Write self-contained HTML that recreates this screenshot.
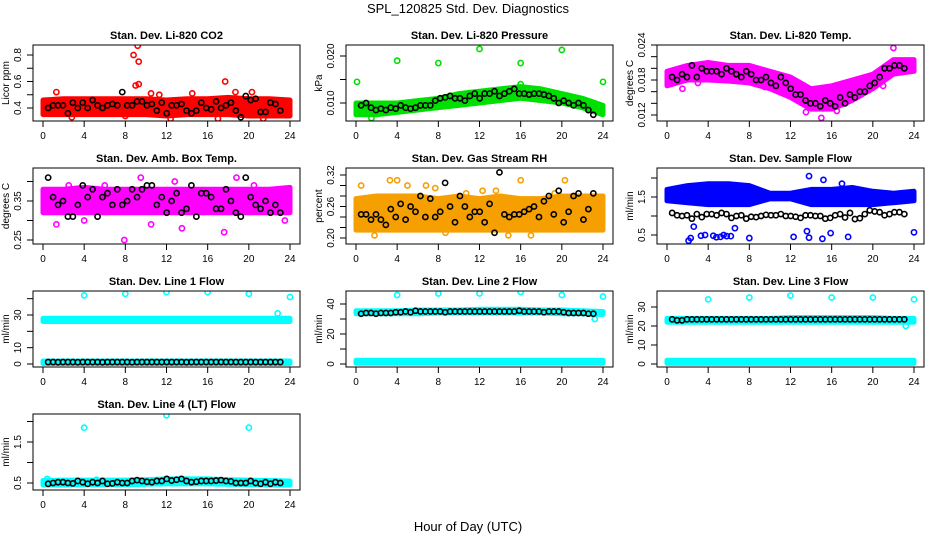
<!DOCTYPE html>
<html><head><meta charset="utf-8"><style>
body{margin:0;background:#fff}
svg{display:block;font-family:"Liberation Sans",sans-serif}
</style></head><body>
<svg id="chart" width="936" height="540" viewBox="0 0 936 540">
<rect width="936" height="540" fill="#fff"/>
<text x="468" y="13" text-anchor="middle" font-size="13">SPL_120825  Std. Dev. Diagnostics</text>
<text x="468" y="531" text-anchor="middle" font-size="13">Hour of Day (UTC)</text>
</svg>
<script>
const bandHours=[0,2,4,6,8,10,12,14,16,18,20,22,24];
const blackHours=[];for(let i=0;i<48;i++)blackHours.push(0.5+i*0.48);
const xTicks=[0,4,8,12,16,20,24];

const co2Lo=[0.35,0.35,0.35,0.35,0.35,0.35,0.34,0.35,0.35,0.35,0.34,0.34,0.34];
const co2Hi=[0.46,0.47,0.47,0.47,0.47,0.47,0.46,0.47,0.47,0.48,0.47,0.47,0.46];
const co2OutX=[8.8,9.2,9.3,9.0,9.3,17.7,18.7,20.3,1.3,10.5,14.5,17,12.4,21.4,2.8,8.0,11.3];
const co2OutY=[0.80,0.87,0.75,0.57,0.58,0.60,0.52,0.52,0.52,0.51,0.51,0.32,0.32,0.32,0.33,0.34,0.50];
const co2Black=[0.40,0.42,0.42,0.42,0.36,0.44,0.40,0.44,0.40,0.46,0.42,0.40,0.42,0.43,0.42,0.52,0.42,0.42,0.45,0.45,0.42,0.43,0.38,0.44,0.36,0.42,0.42,0.43,0.38,0.36,0.38,0.44,0.40,0.39,0.45,0.40,0.42,0.44,0.38,0.33,0.49,0.46,0.47,0.37,0.37,0.44,0.43,0.38];

const presLo=[0.0075,0.0075,0.0080,0.0085,0.0090,0.0095,0.0100,0.0105,0.0110,0.0105,0.0100,0.0090,0.0075];
const presHi=[0.0100,0.0100,0.0100,0.0105,0.0110,0.0120,0.0125,0.0130,0.0135,0.0130,0.0120,0.0110,0.0095];
const presOutX=[0.1,4,8,12,16,20,24,1.5,16];
const presOutY=[0.0145,0.0190,0.0185,0.0215,0.0185,0.0213,0.0145,0.0068,0.0140];
const presBlack=[0.0095,0.0100,0.0090,0.0085,0.0088,0.0085,0.0090,0.0088,0.0095,0.0090,0.0088,0.0090,0.0095,0.0095,0.0095,0.0105,0.0110,0.0112,0.0115,0.0110,0.0110,0.0105,0.0115,0.0120,0.0110,0.0120,0.0120,0.0125,0.0115,0.0120,0.0125,0.0130,0.0120,0.0120,0.0118,0.0120,0.0120,0.0118,0.0115,0.0110,0.0100,0.0105,0.0100,0.0095,0.0100,0.0095,0.0085,0.0075];

const tempLo=[0.0170,0.0180,0.0180,0.0178,0.0175,0.0165,0.0150,0.0130,0.0130,0.0145,0.0165,0.0190,0.0195];
const tempHi=[0.0195,0.0205,0.0210,0.0205,0.0205,0.0195,0.0185,0.0165,0.0170,0.0180,0.0190,0.0215,0.0215];
const tempOutX=[22,15,1.5,3,9.5,13.5,16.5,21];
const tempOutY=[0.0235,0.0115,0.0165,0.0175,0.0168,0.0125,0.0127,0.0170];
const tempBlack=[0.0185,0.0180,0.0190,0.0185,0.0205,0.0185,0.0200,0.0195,0.0195,0.0195,0.0190,0.0200,0.0195,0.0190,0.0185,0.0195,0.0190,0.0180,0.0180,0.0185,0.0175,0.0170,0.0185,0.0175,0.0165,0.0155,0.0155,0.0145,0.0140,0.0140,0.0135,0.0145,0.0140,0.0135,0.0150,0.0140,0.0155,0.0150,0.0160,0.0160,0.0170,0.0175,0.0185,0.0200,0.0200,0.0205,0.0205,0.0200];

const ambLo=[0.32,0.32,0.32,0.32,0.32,0.32,0.32,0.32,0.32,0.32,0.32,0.32,0.32];
const ambHi=[0.38,0.38,0.385,0.38,0.38,0.38,0.38,0.38,0.38,0.38,0.38,0.38,0.385];
const ambOutX=[7.9,13.5,17.6,4,9.5,12.8,18.8,1.3,6,23.5,10.5,2.5,20.5];
const ambOutY=[0.25,0.28,0.27,0.30,0.41,0.40,0.41,0.29,0.39,0.30,0.29,0.39,0.39];
const ambBlack=[0.41,0.36,0.34,0.35,0.31,0.31,0.34,0.39,0.36,0.38,0.31,0.36,0.37,0.34,0.38,0.34,0.35,0.38,0.36,0.38,0.39,0.39,0.34,0.36,0.32,0.35,0.37,0.32,0.33,0.39,0.31,0.37,0.37,0.36,0.33,0.33,0.38,0.35,0.32,0.31,0.41,0.36,0.34,0.33,0.35,0.32,0.34,0.32];

const rhLo=[0.215,0.215,0.215,0.215,0.215,0.215,0.215,0.215,0.215,0.215,0.215,0.215,0.215];
const rhHi=[0.275,0.28,0.28,0.28,0.275,0.28,0.275,0.28,0.275,0.275,0.28,0.28,0.28];
const rhOutX=[0.5,3.3,4,5,6.8,7.7,10.7,12.3,13.6,16,19.3,20.3,1.8,8.7,14.8,17];
const rhOutY=[0.30,0.31,0.31,0.30,0.30,0.295,0.285,0.29,0.29,0.31,0.285,0.31,0.205,0.21,0.205,0.205];
const rhBlack=[0.245,0.245,0.235,0.245,0.235,0.225,0.255,0.240,0.265,0.235,0.260,0.250,0.280,0.240,0.275,0.240,0.250,0.305,0.260,0.230,0.280,0.260,0.240,0.250,0.250,0.230,0.265,0.210,0.325,0.245,0.240,0.245,0.245,0.250,0.255,0.260,0.240,0.270,0.280,0.245,0.290,0.230,0.250,0.280,0.285,0.235,0.255,0.285];

const flowLo=[1.40,1.35,1.30,1.30,1.30,1.45,1.45,1.30,1.30,1.30,1.30,1.35,1.40];
const flowHi=[1.70,1.80,1.85,1.85,1.80,1.60,1.60,1.70,1.70,1.75,1.65,1.60,1.65];
const flowOutX=[2.1,2.3,2.6,3.3,3.7,4.5,4.8,5.2,5.5,5.8,6.2,6.6,8.0,12.3,13.6,13.8,15.1,15.9,17.6,24,2.6,5,13.8,15.2,17];
const flowOutY=[0.35,0.42,0.72,0.48,0.50,0.48,0.44,0.45,0.50,0.47,0.47,0.68,0.42,0.45,0.60,0.43,0.40,0.55,0.45,0.57,2.35,2.35,2.05,1.95,1.85];
const flowBlack=[1.08,1.02,1.00,1.02,0.93,1.05,0.97,1.05,1.05,1.02,1.08,1.05,0.95,1.00,1.02,0.93,0.98,0.97,1.00,1.03,1.02,1.02,1.05,1.00,1.00,0.98,0.95,1.02,1.02,1.00,1.00,0.93,0.95,1.02,1.05,0.96,1.08,0.92,0.94,1.05,1.15,1.12,1.10,1.02,1.05,1.10,1.10,1.05];

const l1UpLo=[26,26,26,26,26,26,26,26,26,26,26,26,26];
const l1UpHi=[28,28,28,28,28,28,28,28,28,28,28,28,28];
const l1DnLo=[0.3,0.3,0.3,0.3,0.3,0.3,0.3,0.3,0.3,0.3,0.3,0.3,0.3];
const l1DnHi=[1.8,1.8,1.8,1.8,1.8,1.8,1.8,1.8,1.8,1.8,1.8,1.8,1.8];
const l1OutX=[4,8,12,16,20,24,22.8];
const l1OutY=[42,43,44,44,43,41,31];
const l1Black=[1.2,1.2,1.1,1.2,1.2,1.2,1.1,1.2,1.2,1.2,1.2,1.1,1.2,1.2,1.2,1.2,1.2,1.1,1.2,1.2,1.2,1.2,1.2,1.2,1.2,1.2,1.2,1.2,1.1,1.2,1.2,1.2,1.2,1.2,1.2,1.2,1.2,1.2,1.2,1.2,1.2,1.2,1.2,1.2,1.2,1.2,1.2,1.2];

const l2UpLo=[33.5,33.5,33.5,33.5,34,34,34,34,34,34,33.5,33.5,33];
const l2UpHi=[35.5,35.5,35.5,36,36,36,36.5,36.5,36.5,36,36,35.5,35];
const l2DnLo=[0.5,0.5,0.5,0.5,0.5,0.5,0.5,0.5,0.5,0.5,0.5,0.5,0.5];
const l2DnHi=[2.5,2.5,2.5,2.5,2.5,2.5,2.5,2.5,2.5,2.5,2.5,2.5,2.5];
const l2OutX=[4,8,12,16,20,24,23.2];
const l2OutY=[46,47,47,48,46,45,30];
const l2Black=[33.5,34,34,33.5,34,34,34,34.5,34.5,35,34.5,35.5,35,35,35,35,35,34.5,35,35,35,35,35,35,35,35,35,35,35,35,35,35,35.5,35,35,35,35,34.5,35,35,35,34.5,34,34,34,34,33.5,33.5];

const l3UpLo=[22,22,22,22,22,22,22,22,22,22,22,22,22];
const l3UpHi=[24,24,24,24,24,24,24.5,24.5,24.5,24.5,24.5,24,24];
const l3DnLo=[0.3,0.3,0.3,0.3,0.3,0.3,0.3,0.3,0.3,0.3,0.3,0.3,0.3];
const l3DnHi=[2,2,2,2,2,2,2,2,2,2,2,2,2];
const l3OutX=[4,8,12,16,20,24,23.2];
const l3OutY=[34,35,36,35,35,34,20];
const l3Black=[23.5,23,23,23.5,23.5,23.5,23.5,23.5,23.5,23.5,23.5,23.5,23.5,23.5,23.5,23.5,23.5,23.5,23.5,23.5,23.5,23.5,23.5,23.5,23.5,23.5,23.5,23.5,23.5,23.5,23.5,23.5,23.5,23.5,23.5,23.5,23.5,23.5,23.5,23.5,23.5,23.5,23.5,23.5,23.5,23.5,23.5,23.5];

const l4Lo=[0.45,0.45,0.46,0.46,0.46,0.47,0.48,0.48,0.48,0.47,0.46,0.45,0.45];
const l4Hi=[0.56,0.57,0.57,0.57,0.57,0.58,0.60,0.60,0.60,0.58,0.57,0.56,0.55];
const l4OutX=[4,12,20,0.4,5.2];
const l4OutY=[1.85,2.15,1.85,0.60,0.58];
const l4Black=[0.48,0.50,0.52,0.52,0.50,0.49,0.55,0.52,0.48,0.52,0.50,0.55,0.48,0.49,0.52,0.50,0.50,0.55,0.57,0.55,0.53,0.52,0.55,0.55,0.60,0.56,0.58,0.60,0.55,0.52,0.53,0.55,0.55,0.55,0.56,0.57,0.55,0.54,0.50,0.50,0.50,0.55,0.50,0.48,0.52,0.48,0.52,0.50];

const NS="http://www.w3.org/2000/svg";
const svg=document.getElementById('chart');
function mk(tag,attrs,parent){const e=document.createElementNS(NS,tag);for(const k in attrs)e.setAttribute(k,attrs[k]);(parent||svg).appendChild(e);return e;}

function panel(p){
  const g=mk('g',{});
  
  
  const L=p.x,T=p.y,W=267,H=76,B=T+H;
  const sx=t=>L+10+t*(247/24);
  const sy=v=>p.p1+(v-p.v1)*(p.p2-p.p1)/(p.v2-p.v1);
  const clip='clip-'+p.name;
  const cp=mk('clipPath',{id:clip},g);mk('rect',{x:L,y:T,width:W,height:H},cp);
  const plot=mk('g',{'clip-path':'url(#'+clip+')'},g);
  p.bands.forEach(b=>{
    let pts=bandHours.map((h,i)=>sx(h)+','+sy(b[1][i]));
    pts=pts.concat(bandHours.map((h,i)=>sx(h)+','+sy(b[0][i])).reverse());
    const poly=mk('polygon',{points:pts.join(' '),fill:p.color,stroke:p.color,'stroke-width':5,'stroke-linejoin':'round'},plot);
    
    
  });
  p.outX.forEach((x,i)=>{
    const c=mk('circle',{cx:sx(x),cy:sy(p.outY[i]),r:2.6,fill:'none',stroke:p.color,'stroke-width':1.6},plot);
    
    
  });
  p.black.forEach((v,i)=>{
    const c=mk('circle',{cx:sx(blackHours[i]),cy:sy(v),r:2.6,fill:'none',stroke:'#000','stroke-width':1.6},plot);
    
    
  });
  const box=mk('rect',{x:L,y:T,width:W,height:H,fill:'none',stroke:'#000','stroke-width':1},g);
  
  
  const t=mk('text',{x:L+W/2,y:T-6,'text-anchor':'middle','font-size':11,'font-weight':'bold'},g);
  t.textContent=p.title;
  
  
  mk('line',{x1:sx(0),x2:sx(24),y1:B,y2:B,stroke:'#000'},g);
  xTicks.forEach(v=>{
    mk('line',{x1:sx(v),x2:sx(v),y1:B,y2:B+6,stroke:'#000'},g);
    const tx=mk('text',{x:sx(v),y:B+18,'text-anchor':'middle','font-size':10},g);
    tx.textContent=v;
    
    
  });
  mk('line',{x1:L,x2:L,y1:sy(p.ticks[0]),y2:sy(p.ticks[p.ticks.length-1]),stroke:'#000'},g);
  p.ticks.forEach(v=>{
    mk('line',{x1:L-6,x2:L,y1:sy(v),y2:sy(v),stroke:'#000'},g);
  });
  p.labels.forEach((lab,i)=>{
    const yy=sy(p.labelVals[i]);
    const tx=mk('text',{x:L-12,y:yy,'text-anchor':'middle','font-size':10,transform:'rotate(-90 '+(L-12)+' '+yy+')'},g);
    tx.textContent=lab;
    
    
  });
  const yl=mk('text',{x:L-24,y:T+H/2,'text-anchor':'middle','font-size':10,transform:'rotate(-90 '+(L-24)+' '+(T+H/2)+')'},g);
  yl.textContent=p.ylab;
  
  
}

const C1=33,C2=346,C3=657,R1=45,R2=168,R3=291,R4=414;
panel({name:'panel-co2',title:'Stan. Dev. Li-820 CO2',ylab:'Licor ppm',x:C1,y:R1,v1:0.4,p1:108,v2:0.8,p2:55,color:'#ff0000',
  bands:[[co2Lo,co2Hi]],outX:co2OutX,outY:co2OutY,black:co2Black,ticks:[0.4,0.5,0.6,0.7,0.8],labels:['0.4','0.6','0.8'],labelVals:[0.4,0.6,0.8]});
panel({name:'panel-pressure',title:'Stan. Dev. Li-820 Pressure',ylab:'kPa',x:C2,y:R1,v1:0.010,p1:103,v2:0.020,p2:56,color:'#00e000',
  bands:[[presLo,presHi]],outX:presOutX,outY:presOutY,black:presBlack,ticks:[0.010,0.015,0.020],labels:['0.010','0.020'],labelVals:[0.010,0.020]});
panel({name:'panel-temp',title:'Stan. Dev. Li-820 Temp.',ylab:'degrees C',x:C3,y:R1,v1:0.012,p1:115,v2:0.024,p2:45,color:'#ff00ff',
  bands:[[tempLo,tempHi]],outX:tempOutX,outY:tempOutY,black:tempBlack,ticks:[0.012,0.014,0.016,0.018,0.020,0.022,0.024],labels:['0.012','0.018','0.024'],labelVals:[0.012,0.018,0.024]});
panel({name:'panel-amb-temp',title:'Stan. Dev. Amb. Box Temp.',ylab:'degrees C',x:C1,y:R2,v1:0.25,p1:240,v2:0.35,p2:201,color:'#ff00ff',
  bands:[[ambLo,ambHi]],outX:ambOutX,outY:ambOutY,black:ambBlack,ticks:[0.25,0.30,0.35,0.40],labels:['0.25','0.35'],labelVals:[0.25,0.35]});
panel({name:'panel-rh',title:'Stan. Dev. Gas Stream RH',ylab:'percent',x:C2,y:R2,v1:0.20,p1:238,v2:0.32,p2:175,color:'#f5a000',
  bands:[[rhLo,rhHi]],outX:rhOutX,outY:rhOutY,black:rhBlack,ticks:[0.20,0.22,0.24,0.26,0.28,0.30,0.32],labels:['0.20','0.26','0.32'],labelVals:[0.20,0.26,0.32]});
panel({name:'panel-sample-flow',title:'Stan. Dev. Sample Flow',ylab:'ml/min',x:C3,y:R2,v1:0.5,p1:235,v2:1.5,p2:197,color:'#0000ff',
  bands:[[flowLo,flowHi]],outX:flowOutX,outY:flowOutY,black:flowBlack,ticks:[0.5,1.0,1.5,2.0],labels:['0.5','1.5'],labelVals:[0.5,1.5]});
panel({name:'panel-line1',title:'Stan. Dev. Line 1 Flow',ylab:'ml/min',x:C1,y:R3,v1:0,p1:364,v2:30,p2:315,color:'#00ffff',
  bands:[[l1UpLo,l1UpHi],[l1DnLo,l1DnHi]],outX:l1OutX,outY:l1OutY,black:l1Black,ticks:[0,10,20,30,40],labels:['0','10','30'],labelVals:[0,10,30]});
panel({name:'panel-line2',title:'Stan. Dev. Line 2 Flow',ylab:'ml/min',x:C2,y:R3,v1:0,p1:364,v2:40,p2:304,color:'#00ffff',
  bands:[[l2UpLo,l2UpHi],[l2DnLo,l2DnHi]],outX:l2OutX,outY:l2OutY,black:l2Black,ticks:[0,10,20,30,40],labels:['0','20','40'],labelVals:[0,20,40]});
panel({name:'panel-line3',title:'Stan. Dev. Line 3 Flow',ylab:'ml/min',x:C3,y:R3,v1:0,p1:364,v2:30,p2:307,color:'#00ffff',
  bands:[[l3UpLo,l3UpHi],[l3DnLo,l3DnHi]],outX:l3OutX,outY:l3OutY,black:l3Black,ticks:[0,10,20,30],labels:['0','10','20','30'],labelVals:[0,10,20,30]});
panel({name:'panel-line4',title:'Stan. Dev. Line 4 (LT) Flow',ylab:'ml/min',x:C1,y:R4,v1:0.5,p1:483,v2:1.5,p2:442,color:'#00ffff',
  bands:[[l4Lo,l4Hi]],outX:l4OutX,outY:l4OutY,black:l4Black,ticks:[0.5,1.0,1.5,2.0],labels:['0.5','1.5'],labelVals:[0.5,1.5]});
</script>
</body></html>
